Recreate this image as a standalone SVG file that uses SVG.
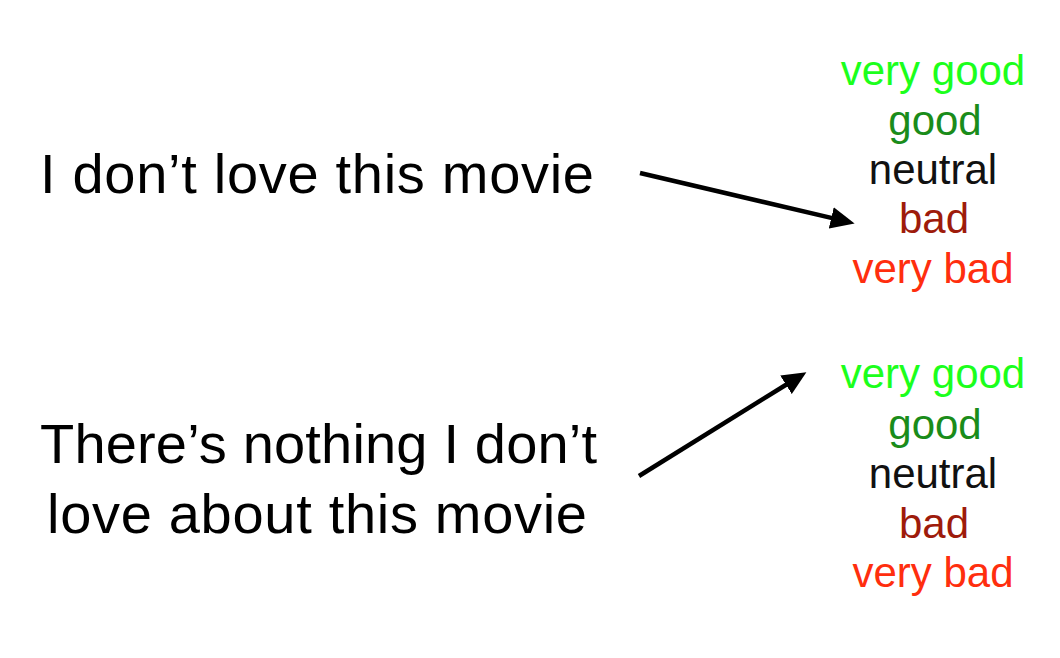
<svg xmlns="http://www.w3.org/2000/svg" width="1060" height="658" viewBox="0 0 1060 658">
<defs>
<style>
.big{font-family:"Liberation Sans",Arial,sans-serif;font-size:56px;fill:#000}
.lbl{font-family:"Liberation Sans",Arial,sans-serif;font-size:42px;text-anchor:middle}
.vg{fill:#1cff1c}
.g{fill:#1a8c1a}
.n{fill:#111}
.b{fill:#9e1b0b}
.vb{fill:#ff2e0e}
.conn{stroke:#000;stroke-width:4.5;fill:none}
</style>
<marker id="ah" markerUnits="userSpaceOnUse" markerWidth="24" markerHeight="22" viewBox="0 0 22 20" refX="4" refY="10" orient="auto">
<path d="M0,0 L22,10 L0,20 z" fill="#000"/>
</marker>
</defs>
<rect width="1060" height="658" fill="#fff"/>
<g id="sentence1">
<text class="big" x="40" y="193" textLength="554">I don’t love this movie</text>
</g>
<g id="sentence2">
<text class="big" x="40" y="463" textLength="557">There’s nothing I don’t</text>
<text class="big" x="47" y="533" textLength="540">love about this movie</text>
</g>
<g id="labels1">
<text class="lbl vg" x="933" y="85">very good</text>
<text class="lbl g" x="935" y="135">good</text>
<text class="lbl n" x="933" y="184">neutral</text>
<text class="lbl b" x="934" y="233">bad</text>
<text class="lbl vb" x="933" y="283">very bad</text>
</g>
<g id="labels2">
<text class="lbl vg" x="933" y="388">very good</text>
<text class="lbl g" x="935" y="439">good</text>
<text class="lbl n" x="933" y="488">neutral</text>
<text class="lbl b" x="934" y="538">bad</text>
<text class="lbl vb" x="933" y="587">very bad</text>
</g>
<g id="connectors">
<line class="conn" x1="640" y1="173" x2="835.5" y2="218.9" marker-end="url(#ah)"/>
<line class="conn" x1="639" y1="476" x2="789.7" y2="382.5" marker-end="url(#ah)"/>
</g>
</svg>
